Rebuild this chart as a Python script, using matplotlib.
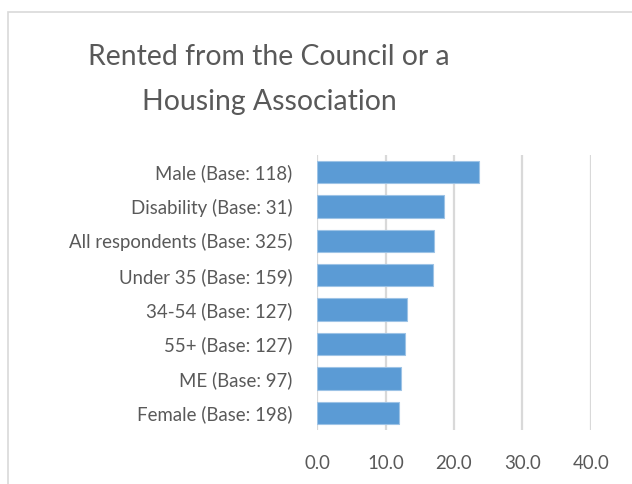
import matplotlib
matplotlib.use("Agg")
import matplotlib.pyplot as plt
from matplotlib.patches import Rectangle

# Data (top to bottom)
categories = [
    "Male (Base: 118)",
    "Disability (Base: 31)",
    "All respondents (Base: 325)",
    "Under 35 (Base: 159)",
    "34-54 (Base: 127)",
    "55+ (Base: 127)",
    "ME (Base: 97)",
    "Female (Base: 198)",
]
values = [23.7, 18.5, 17.1, 16.9, 13.1, 12.8, 12.3, 12.0]
x_ticks = [0, 10, 20, 30, 40]
x_tick_labels = ["0.0", "10.0", "20.0", "30.0", "40.0"]

plt.rcParams["font.family"] = ["Lato", "DejaVu Sans"]
text_color = "#595959"

fig = plt.figure(figsize=(6.32, 4.84), dpi=100)
ax = fig.add_axes([0.5016, 0.1116, 0.4335, 0.5684])

# Chart area border (light grey, runs off the right and bottom edges)
fig.patches.append(Rectangle((8 / 632, -0.1), 1.2, 1 - 12 / 484 + 0.1,
                             transform=fig.transFigure, fill=False,
                             edgecolor="#d9d9d9", linewidth=1.2))

ypos = list(range(len(categories)))[::-1]
ax.barh(ypos, values, height=0.65, color="#5b9bd5", edgecolor="#9dc3e6",
        linewidth=0.8, zorder=3)

ax.set_xlim(0, 40)
ax.set_ylim(-0.5, len(categories) - 0.5)
ax.set_xticks(x_ticks)
ax.set_xticklabels(x_tick_labels)
ax.set_yticks(ypos)
ax.set_yticklabels(categories)

ax.grid(axis="x", color="#d9d9d9", linewidth=1.6, zorder=0)
ax.tick_params(axis="both", length=0, labelsize=13.4, labelcolor=text_color)
ax.tick_params(axis="x", pad=18)
ax.tick_params(axis="y", pad=17.5)
for s in ax.spines.values():
    s.set_visible(False)

fig.text(269 / 632, 1 - 79.5 / 484, "Rented from the Council or a\nHousing Association",
         ha="center", va="center", fontsize=20.4, color=text_color,
         linespacing=1.9)

fig.savefig("out.png", dpi=100)
